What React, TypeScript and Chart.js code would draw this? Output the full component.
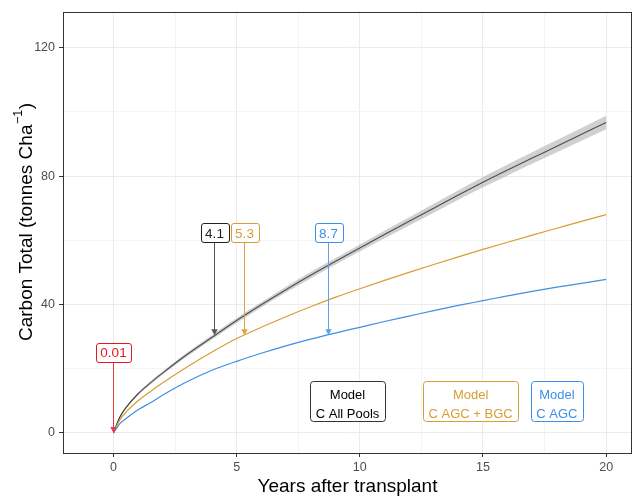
import React, { useEffect, useRef } from "react";
import { Chart, registerables } from "chart.js";

Chart.register(...registerables);

// ---- data ----
const years = [0, 0.25, 0.5, 1, 1.5, 2, 3, 4, 5, 6, 7, 8, 9, 10, 11, 12, 13, 14, 15, 16, 17, 18, 19, 20];
const allPools = [0, 4.8, 7.8, 12.2, 15.6, 18.7, 24.5, 29.8, 35.0, 39.9, 44.6, 49.1, 53.4, 57.6, 61.8, 65.9, 70.0, 74.1, 78.1, 81.9, 85.6, 89.3, 93.0, 96.7];
const allPoolsUpper = [0, 5.0, 8.1, 12.6, 16.1, 19.2, 25.1, 30.5, 35.8, 40.7, 45.5, 50.1, 54.4, 58.7, 63.0, 67.2, 71.4, 75.6, 79.7, 83.6, 87.4, 91.2, 95.0, 98.8];
const allPoolsLower = [0, 4.6, 7.5, 11.8, 15.1, 18.2, 23.9, 29.1, 34.2, 39.1, 43.7, 48.1, 52.4, 56.5, 60.6, 64.6, 68.6, 72.6, 76.5, 80.2, 83.8, 87.4, 91.0, 94.6];
const agcBgc = [0, 4.0, 6.4, 10.0, 12.9, 15.6, 20.6, 25.2, 29.4, 32.9, 36.2, 39.3, 42.2, 44.9, 47.5, 50.0, 52.45, 54.85, 57.15, 59.4, 61.6, 63.75, 65.9, 68.0];
const agc = [0, 2.8, 4.4, 7.2, 9.4, 11.8, 16.0, 19.5, 22.3, 24.8, 27.1, 29.2, 31.1, 32.9, 34.7, 36.4, 38.1, 39.7, 41.2, 42.7, 44.1, 45.4, 46.6, 47.8];

const xTicks = [0, 2.5, 5, 7.5, 10, 12.5, 15, 17.5, 20];
const yTicks = [0, 20, 40, 60, 80, 100, 120];
const xLimits = [-2.05, 21.05];
const yLimits = [-6.25, 131.25];

// annotation arrows: label text, x (years), arrow tip y, label y
const annTexts = ["0.01", "4.1", "5.3", "8.7"];
const annX = [0, 4.1, 5.3, 8.7];
const annTipY = [0, 30.4, 30.4, 30.4];
const annLabelY = [25, 62.3, 62.3, 62.3];

// model labels
const modelTitles = ["Model", "Model", "Model"];
const modelNames = ["C All Pools", "C AGC + BGC", "C AGC"];
const modelX = [9.5, 14.5, 18];
const modelY = [10, 10, 10];

const xTitle = "Years after transplant";
const yTitleMain = "Carbon Total (tonnes Cha";
const yTitleSup = "\u22121";
const yTitleEnd = ")";

// ---- styles ----
const BLACK = "#111111";
const ORANGE = "#D89D33";
const BLUE = "#3E8FE6";
const RED = "#E8161E";
const annColors = [RED, "#222222", ORANGE, BLUE];
const annArrowColors = ["#EC3A40", "#555555", "#D9A448", "#5FA2EA"];
const modelColors = [["#000000", "#333333"], [ORANGE, ORANGE], [BLUE, BLUE]];
const FONT = '"Liberation Sans", Arial, sans-serif';

const pts = (ys: number[]) => years.map((x, i) => ({ x, y: ys[i] }));

function roundRect(ctx: CanvasRenderingContext2D, x: number, y: number, w: number, h: number, r: number) {
  ctx.beginPath();
  ctx.moveTo(x + r, y);
  ctx.lineTo(x + w - r, y);
  ctx.arcTo(x + w, y, x + w, y + r, r);
  ctx.lineTo(x + w, y + h - r);
  ctx.arcTo(x + w, y + h, x + w - r, y + h, r);
  ctx.lineTo(x + r, y + h);
  ctx.arcTo(x, y + h, x, y + h - r, r);
  ctx.lineTo(x, y + r);
  ctx.arcTo(x, y, x + r, y, r);
  ctx.closePath();
}

const decorPlugin = {
  id: "decor",
  afterDatasetsDraw(chart: any) {
    const { ctx, chartArea: a } = chart;
    const xs = chart.scales.x;
    const ys = chart.scales.y;
    ctx.save();
    ctx.beginPath();
    ctx.rect(a.left, a.top, a.right - a.left, a.bottom - a.top);
    ctx.clip();

    // arrows + numeric labels
    ctx.font = `13.5px ${FONT}`;
    ctx.textAlign = "center";
    ctx.textBaseline = "middle";
    for (let i = 0; i < annTexts.length; i++) {
      const px = Math.round(xs.getPixelForValue(annX[i])) + 0.5;
      const tip = ys.getPixelForValue(annTipY[i]);
      const ly = ys.getPixelForValue(annLabelY[i]);
      const tw = ctx.measureText(annTexts[i]).width;
      const w = tw + 9;
      const h = 19;
      // arrow line
      ctx.strokeStyle = annArrowColors[i];
      ctx.fillStyle = annArrowColors[i];
      ctx.lineWidth = 1;
      ctx.beginPath();
      ctx.moveTo(px, ly + h / 2);
      ctx.lineTo(px, tip - 4);
      ctx.stroke();
      ctx.beginPath();
      ctx.moveTo(px, tip);
      ctx.lineTo(px - 3.2, tip - 6);
      ctx.lineTo(px + 3.2, tip - 6);
      ctx.closePath();
      ctx.fill();
      // box
      roundRect(ctx, Math.round(px - w / 2) + 0.5, Math.round(ly - h / 2) + 0.5, Math.round(w), h, 2.5);
      ctx.fillStyle = "#ffffff";
      ctx.fill();
      ctx.strokeStyle = annColors[i];
      ctx.stroke();
      ctx.fillStyle = annColors[i];
      ctx.fillText(annTexts[i], px, ly + 1);
    }

    // model labels
    ctx.font = `13px ${FONT}`;
    for (let i = 0; i < modelNames.length; i++) {
      const px = xs.getPixelForValue(modelX[i]);
      const py = ys.getPixelForValue(modelY[i]);
      const tw = Math.max(ctx.measureText(modelTitles[i]).width, ctx.measureText(modelNames[i]).width);
      const w = Math.round(tw + 11);
      const h = 40;
      const bx = Math.round(px - w / 2) + 0.5;
      const by = Math.round(py - h / 2) + 0.5;
      roundRect(ctx, bx, by, w, h, 3);
      ctx.fillStyle = "#ffffff";
      ctx.fill();
      ctx.strokeStyle = modelColors[i][1];
      ctx.lineWidth = 1;
      ctx.stroke();
      ctx.fillStyle = modelColors[i][0];
      ctx.textBaseline = "alphabetic";
      ctx.fillText(modelTitles[i], px, by + 17);
      ctx.fillText(modelNames[i], px, by + 36);
    }
    ctx.restore();
  },
  afterDraw(chart: any) {
    const { ctx, chartArea: a } = chart;
    ctx.save();
    // panel border
    ctx.strokeStyle = "#333333";
    ctx.lineWidth = 1;
    ctx.strokeRect(Math.round(a.left) + 0.5, Math.round(a.top) + 0.5, Math.round(a.right - a.left) - 1, Math.round(a.bottom - a.top) - 1);
    // x title
    ctx.fillStyle = "#000000";
    ctx.font = `19px ${FONT}`;
    ctx.textAlign = "center";
    ctx.textBaseline = "alphabetic";
    ctx.fillText(xTitle, (a.left + a.right) / 2, 492);
    // y title with superscript
    ctx.translate(32, 222.5);
    ctx.rotate(-Math.PI / 2);
    ctx.textAlign = "left";
    ctx.font = `19px ${FONT}`;
    const w1 = ctx.measureText(yTitleMain).width;
    const w3 = ctx.measureText(yTitleEnd).width;
    ctx.font = `12.5px ${FONT}`;
    const w2 = ctx.measureText(yTitleSup).width;
    const start = -(w1 + w2 + w3) / 2;
    ctx.font = `19px ${FONT}`;
    ctx.fillText(yTitleMain, start, 0);
    ctx.font = `12.5px ${FONT}`;
    ctx.fillText(yTitleSup, start + w1 + 0.5, -10);
    ctx.font = `19px ${FONT}`;
    ctx.fillText(yTitleEnd, start + w1 + w2 + 1, 0);
    ctx.restore();
  },
};

export default function App() {
  const ref = useRef<HTMLCanvasElement>(null);
  useEffect(() => {
    if (!ref.current) return;
    const majorX = (v: number) => v % 5 === 0;
    const majorY = (v: number) => v % 40 === 0;
    const chart = new Chart(ref.current, {
      type: "line",
      data: {
        datasets: [
          {
            label: "upper",
            data: pts(allPoolsUpper),
            borderWidth: 0,
            borderColor: "rgba(0,0,0,0)",
            backgroundColor: "rgba(150,150,150,0.45)",
            pointRadius: 0,
            fill: "+1",
            cubicInterpolationMode: "monotone",
          },
          {
            label: "lower",
            data: pts(allPoolsLower),
            borderWidth: 0,
            borderColor: "rgba(0,0,0,0)",
            pointRadius: 0,
            fill: false,
            cubicInterpolationMode: "monotone",
          },
          {
            label: "C AGC",
            data: pts(agc),
            borderColor: BLUE,
            borderWidth: 1.2,
            pointRadius: 0,
            fill: false,
            cubicInterpolationMode: "monotone",
          },
          {
            label: "C AGC + BGC",
            data: pts(agcBgc),
            borderColor: ORANGE,
            borderWidth: 1.2,
            pointRadius: 0,
            fill: false,
            cubicInterpolationMode: "monotone",
          },
          {
            label: "C All Pools",
            data: pts(allPools),
            borderColor: BLACK,
            borderWidth: 1.1,
            pointRadius: 0,
            fill: false,
            cubicInterpolationMode: "monotone",
          },
        ],
      },
      options: {
        responsive: false,
        animation: false,
        events: [],
        layout: { padding: { top: 4, right: 5, left: 0, bottom: 0 } },
        plugins: { legend: { display: false }, tooltip: { enabled: false }, title: { display: false } },
        scales: {
          x: {
            type: "linear",
            min: xLimits[0],
            max: xLimits[1],
            afterBuildTicks: (s: any) => {
              s.ticks = xTicks.map((value) => ({ value }));
            },
            afterFit: (s: any) => {
              s.height = 47;
            },
            border: { display: false },
            grid: {
              color: (c: any) => (majorX(c.tick.value) ? "#EBEBEB" : "#F4F4F4"),
              lineWidth: 1,
              tickLength: 4,
              tickColor: (c: any) => (majorX(c.tick.value) ? "#333333" : "rgba(0,0,0,0)"),
            },
            ticks: {
              autoSkip: false,
              maxRotation: 0,
              padding: 3,
              color: "#4D4D4D",
              font: { family: FONT, size: 12.5 },
              callback: (v: any) => (majorX(Number(v)) ? String(v) : ""),
            },
          },
          y: {
            type: "linear",
            min: yLimits[0],
            max: yLimits[1],
            afterBuildTicks: (s: any) => {
              s.ticks = yTicks.map((value) => ({ value }));
            },
            afterFit: (s: any) => {
              s.width = 63;
            },
            border: { display: false },
            grid: {
              color: (c: any) => (majorY(c.tick.value) ? "#EBEBEB" : "#F4F4F4"),
              lineWidth: 1,
              tickLength: 4,
              tickColor: (c: any) => (majorY(c.tick.value) ? "#333333" : "rgba(0,0,0,0)"),
            },
            ticks: {
              autoSkip: false,
              padding: 4,
              color: "#4D4D4D",
              font: { family: FONT, size: 12.5 },
              callback: (v: any) => (majorY(Number(v)) ? String(v) : ""),
            },
          },
        },
      },
      plugins: [decorPlugin],
    } as any);
    return () => chart.destroy();
  }, []);
  return (
    <div style={{ position: "fixed", left: 0, top: 0, width: 637, height: 500, background: "#ffffff" }}>
      <canvas ref={ref} width={637} height={500} style={{ display: "block" }} />
    </div>
  );
}
